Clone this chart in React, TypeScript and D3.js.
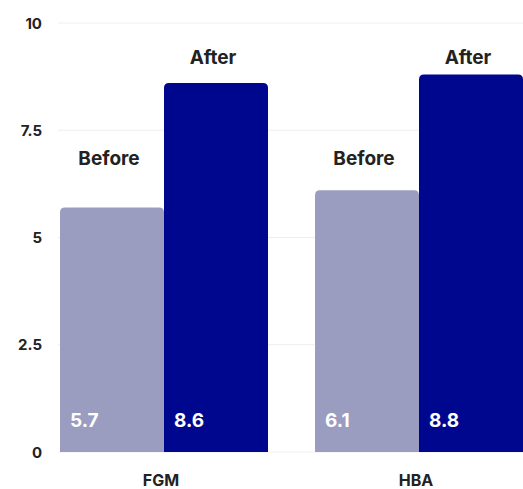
import React from 'react';
import * as d3 from 'd3';

const categories = ['FGM', 'HBA'];
const seriesNames = ['Before', 'After'];
const beforeValues = [5.7, 6.1];
const afterValues = [8.6, 8.8];
const yTicks = [0, 2.5, 5, 7.5, 10];
const tickLabels = ['0', '2.5', '5', '7.5', '10'];

const W = 523;
const H = 489;
const colors: Record<string, string> = { Before: '#9a9cc0', After: '#00078f' };
// where the series labels float, in value units
const labelLevel: Record<string, number> = { Before: 6.85, After: 9.2 };

export default function App() {
  const x0 = d3.scaleBand<string>().domain(categories).range([60, 523]).paddingInner(47 / 255).paddingOuter(0);
  const x1 = d3.scaleBand<string>().domain(seriesNames).range([0, x0.bandwidth()]).padding(0);
  const y = d3.scaleLinear().domain([0, 10]).range([452, 23]);

  const rows = categories.map((c, i) => ({
    cat: c,
    vals: [
      { s: 'Before', v: beforeValues[i] },
      { s: 'After', v: afterValues[i] },
    ],
  }));

  const font = 'Inter, "Open Sans", sans-serif';

  const topRounded = (x: number, yTop: number, w: number, yBot: number, r: number) =>
    `M${x},${yBot}V${yTop + r}Q${x},${yTop} ${x + r},${yTop}H${x + w - r}Q${x + w},${yTop} ${x + w},${yTop + r}V${yBot}Z`;

  return (
    <svg width={W} height={H} style={{ position: 'fixed', left: 0, top: 0, background: '#fff' }} fontFamily={font}>
      {yTicks.map((t, i) => (
        <g key={t}>
          <line x1={58} x2={W} y1={y(t)} y2={y(t)} stroke="#eeeeee" strokeWidth={1} />
          <text x={42} y={y(t)} textAnchor="end" dominantBaseline="central" fontSize={15} fontWeight={700} fill="#222">
            {tickLabels[i]}
          </text>
        </g>
      ))}
      {rows.map((r) => (
        <g key={r.cat} transform={`translate(${x0(r.cat)},0)`}>
          {r.vals.map((d) => {
            const bx = x1(d.s)!;
            const bw = x1.bandwidth();
            return (
              <g key={d.s}>
                <path d={topRounded(bx, y(d.v), bw, y(0), 5)} fill={colors[d.s]} />
                <text x={bx + bw / 2 - 3} y={y(labelLevel[d.s])} textAnchor="middle" dominantBaseline="central" fontSize={19} fontWeight={700} fill="#222">
                  {d.s}
                </text>
                <text x={bx + 10} y={y(0) - 25} fontSize={19} fontWeight={700} fill="#fff">
                  {d.v.toFixed(1)}
                </text>
              </g>
            );
          })}
          <text x={x0.bandwidth() / 2 - 3} y={480} textAnchor="middle" dominantBaseline="central" fontSize={16} fontWeight={700} fill="#222">
            {r.cat}
          </text>
        </g>
      ))}
    </svg>
  );
}
